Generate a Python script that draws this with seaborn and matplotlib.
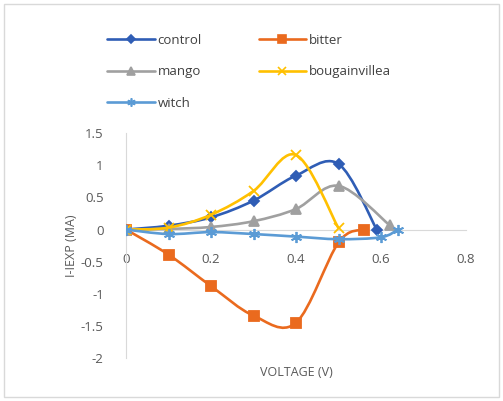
import matplotlib.pyplot as plt
import matplotlib.patches as patches
from matplotlib.path import Path
from matplotlib.lines import Line2D
import pandas as pd
import seaborn as sns

# Data
control_x = [0, 0.1, 0.2, 0.3, 0.4, 0.5, 0.59]
control_y = [0, 0.06, 0.19, 0.45, 0.84, 1.02, 0.0]
bitter_x = [0, 0.1, 0.2, 0.3, 0.4, 0.5, 0.56]
bitter_y = [0, -0.39, -0.88, -1.34, -1.45, -0.2, 0.0]
mango_x = [0, 0.1, 0.2, 0.3, 0.4, 0.5, 0.62]
mango_y = [0, 0.01, 0.04, 0.13, 0.32, 0.68, 0.07]
boug_x = [0, 0.1, 0.2, 0.3, 0.4, 0.5]
boug_y = [0, 0.03, 0.23, 0.6, 1.16, 0.02]
witch_x = [0, 0.1, 0.2, 0.3, 0.4, 0.5, 0.6, 0.64]
witch_y = [0, -0.07, -0.04, -0.07, -0.11, -0.15, -0.12, 0.0]

series = [
    ('control', control_x, control_y, '#2F5DB5', 'D', 5.5),
    ('bitter', bitter_x, bitter_y, '#EA6A1E', 's', 7),
    ('mango', mango_x, mango_y, '#A0A0A0', '^', 7),
    ('bougainvillea', boug_x, boug_y, '#FFC000', 'x', 7),
    ('witch', witch_x, witch_y, '#5B9BD5', (6, 2, 0), 8),
]

sns.set_style('white')
plt.rcParams['font.family'] = ['Open Sans', 'DejaVu Sans']
grey = '#595959'


def smooth_path(xs, ys):
    # Catmull-Rom style bezier through the data points (like Excel smoothed lines)
    pts = list(zip(xs, ys))
    verts = [pts[0]]
    codes = [Path.MOVETO]
    n = len(pts)
    for i in range(n - 1):
        p0 = pts[i - 1] if i > 0 else pts[i]
        p1 = pts[i]
        p2 = pts[i + 1]
        p3 = pts[i + 2] if i + 2 < n else pts[i + 1]
        c1 = (p1[0] + (p2[0] - p0[0]) / 6, p1[1] + (p2[1] - p0[1]) / 6)
        c2 = (p2[0] - (p3[0] - p1[0]) / 6, p2[1] - (p3[1] - p1[1]) / 6)
        verts += [c1, c2, p2]
        codes += [Path.CURVE4] * 3
    return Path(verts, codes)


fig = plt.figure(figsize=(5.03, 4.01), dpi=100)
ax = fig.add_axes([0.2505, 0.107, 0.676, 0.561])

handles = {}
for z, (name, xs, ys, color, marker, ms) in enumerate(series):
    df = pd.DataFrame({'x': xs, 'y': ys})
    ax.add_patch(patches.PathPatch(smooth_path(xs, ys), facecolor='none', edgecolor=color,
                                   lw=1.9, zorder=3 + z))
    sns.lineplot(data=df, x='x', y='y', ax=ax, color=color, marker=marker, markersize=ms,
                 markeredgecolor=color, markeredgewidth=1.3, linestyle='none', zorder=3 + z,
                 legend=False, sort=False, estimator=None)
    handles[name] = Line2D([0], [0], color=color, lw=1.9, marker=marker, markersize=ms * 0.75,
                           markeredgecolor=color, markeredgewidth=1.2, label=name)

ax.set_xlim(0, 0.8)
ax.set_ylim(-2, 1.5)
ax.set_xticks([0, 0.2, 0.4, 0.6, 0.8])
ax.set_xticklabels(['0', '0.2', '0.4', '0.6', '0.8'])
ax.set_yticks([-2, -1.5, -1, -0.5, 0, 0.5, 1, 1.5])
ax.set_yticklabels(['-2', '-1.5', '-1', '-0.5', '0', '0.5', '1', '1.5'])

for s in ['top', 'right']:
    ax.spines[s].set_visible(False)
ax.spines['bottom'].set_position(('data', 0))
ax.spines['bottom'].set_color('#D9D9D9')
ax.spines['left'].set_color('#D9D9D9')
ax.tick_params(axis='both', colors=grey, labelsize=9.5, length=0)
ax.tick_params(axis='y', pad=16)
ax.tick_params(axis='x', pad=17)

ax.set_xlabel('VOLTAGE (V)', fontsize=9, color=grey)
ax.xaxis.set_label_coords(0.5, -0.035)
ax.set_ylabel('I-IEXP (MA)', fontsize=9, color=grey)
ax.yaxis.set_label_coords(-0.14, 0.5)

# legend is filled row by row in the reference: reorder for column-major layout
order = ['control', 'mango', 'witch', 'bitter', 'bougainvillea']
fig.legend(handles=[handles[k] for k in order], ncol=2, loc='upper left',
           bbox_to_anchor=(0.19, 0.945), frameon=False, fontsize=9.5, labelcolor='#404040',
           handlelength=3.6, columnspacing=4.3, labelspacing=1.4, handletextpad=0.2)

fig.patches.append(patches.Rectangle((0.008, 0.01), 0.984, 0.98, transform=fig.transFigure,
                                     fill=False, edgecolor='#D9D9D9', lw=1))

fig.savefig('out.png', dpi=100)
